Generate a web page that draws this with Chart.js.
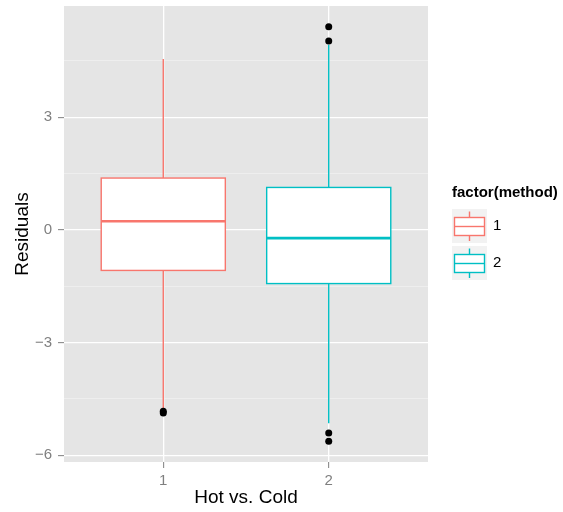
<!DOCTYPE html>
<html>
<head>
<meta charset="utf-8">
<script src="https://cdn.jsdelivr.net/npm/chart.js@4.4.1/dist/chart.umd.min.js"></script>
<style>
  html, body { margin: 0; padding: 0; background: #fff; }
  canvas { display: block; }
</style>
</head>
<body>
<canvas id="chart" width="563" height="512"></canvas>
<script>
'use strict';

// ─── Data ────────────────────────────────────────────────────────────────────

const groups       = [1, 2];
const groupLabels  = ['1', '2'];
const whiskerLow   = [-4.79, -5.15];
const lowerQuart   = [-1.08, -1.43];
const medians      = [0.23, -0.22];
const upperQuart   = [1.38, 1.13];
const whiskerHigh  = [4.55, 4.93];
const outliersX    = [1, 1, 2, 2, 2, 2];
const outliersY    = [-4.83, -4.88, 5.41, 5.03, -5.41, -5.63];
const yMajorTicks  = [-6, -3, 0, 3];
const yMinorTicks  = [-4.5, -1.5, 1.5, 4.5];
const xTitle       = 'Hot vs. Cold';
const yTitle       = 'Residuals';
const legendTitle  = 'factor(method)';

// ─── Style ───────────────────────────────────────────────────────────────────

const COLORS    = ['#F8766D', '#00BFC4'];
const PANEL_BG  = '#E5E5E5';
const GREY50    = '#7F7F7F';
const FONT      = "'Liberation Sans', Arial, Helvetica, sans-serif";
const BOX_HALF  = 0.375;

// y range: data range expanded by 5% each side (ggplot default)
const allY  = whiskerLow.concat(whiskerHigh, outliersY);
const yLo   = Math.min(...allY);
const yHi   = Math.max(...allY);
const yPad  = (yHi - yLo) * 0.05;

const isMajor = v => yMajorTicks.includes(v);
const fmt     = v => (v < 0 ? '\u2212' + Math.abs(v) : String(v));

// ─── Plugins ─────────────────────────────────────────────────────────────────

const panelBg = {
  id: 'panelBg',
  beforeDraw(chart) {
    const { ctx, chartArea: a } = chart;
    ctx.save();
    ctx.fillStyle = PANEL_BG;
    ctx.fillRect(a.left, a.top, a.right - a.left, a.bottom - a.top);
    ctx.restore();
  },
};

const boxes = {
  id: 'boxes',
  beforeDatasetsDraw(chart) {
    const { ctx } = chart;
    const xs = chart.scales.x, ys = chart.scales.y;
    ctx.save();
    groups.forEach((g, i) => {
      const x  = xs.getPixelForValue(g);
      const xl = xs.getPixelForValue(g - BOX_HALF);
      const xr = xs.getPixelForValue(g + BOX_HALF);
      const yq1 = ys.getPixelForValue(lowerQuart[i]);
      const yq3 = ys.getPixelForValue(upperQuart[i]);
      ctx.strokeStyle = COLORS[i];
      ctx.lineWidth = 1.4;
      ctx.beginPath();
      ctx.moveTo(x, ys.getPixelForValue(whiskerHigh[i]));
      ctx.lineTo(x, yq3);
      ctx.moveTo(x, yq1);
      ctx.lineTo(x, ys.getPixelForValue(whiskerLow[i]));
      ctx.stroke();
      ctx.fillStyle = '#fff';
      ctx.fillRect(xl, yq3, xr - xl, yq1 - yq3);
      ctx.strokeRect(xl, yq3, xr - xl, yq1 - yq3);
      const ym = ys.getPixelForValue(medians[i]);
      ctx.lineWidth = 2.7;
      ctx.beginPath();
      ctx.moveTo(xl, ym);
      ctx.lineTo(xr, ym);
      ctx.stroke();
    });
    ctx.restore();
  },
};

const ggLegend = {
  id: 'ggLegend',
  afterDraw(chart) {
    const { ctx } = chart;
    const left = 452, keyW = 35, keyH = 34;
    ctx.save();
    ctx.textBaseline = 'middle';
    ctx.textAlign = 'left';
    ctx.fillStyle = '#000';
    ctx.font = `bold 15px ${FONT}`;
    ctx.fillText(legendTitle, left, 193);
    groups.forEach((g, i) => {
      const top = 209 + i * (keyH + 3);
      ctx.fillStyle = '#F2F2F2';
      ctx.fillRect(left, top, keyW, keyH);
      const cx = left + keyW / 2;
      ctx.strokeStyle = COLORS[i];
      ctx.lineWidth = 1.4;
      ctx.beginPath();
      ctx.moveTo(cx, top + 2.5);
      ctx.lineTo(cx, top + 8.5);
      ctx.moveTo(cx, top + 26.5);
      ctx.lineTo(cx, top + 32);
      ctx.stroke();
      ctx.fillStyle = '#fff';
      ctx.fillRect(left + 2.5, top + 8.5, keyW - 5, 18);
      ctx.strokeRect(left + 2.5, top + 8.5, keyW - 5, 18);
      ctx.beginPath();
      ctx.moveTo(left + 2.5, top + 17.5);
      ctx.lineTo(left + keyW - 2.5, top + 17.5);
      ctx.stroke();
      ctx.fillStyle = '#000';
      ctx.font = `15px ${FONT}`;
      ctx.fillText(groupLabels[i], left + keyW + 6, top + keyH / 2);
    });
    ctx.restore();
  },
};

// ─── Chart ───────────────────────────────────────────────────────────────────

new Chart(document.getElementById('chart').getContext('2d'), {
  type: 'scatter',
  data: {
    datasets: [{
      label: 'outliers',
      data: outliersX.map((x, i) => ({ x, y: outliersY[i] })),
      backgroundColor: '#000',
      borderWidth: 0,
      pointRadius: 3.5,
      pointHoverRadius: 3.5,
    }],
  },
  options: {
    responsive: false,
    animation: false,
    devicePixelRatio: 1,
    layout: { padding: { left: 0, top: 6, right: 135, bottom: 0 } },
    plugins: {
      legend: { display: false },
      tooltip: { enabled: false },
    },
    scales: {
      x: {
        type: 'linear',
        min: 0.4,
        max: 2.6,
        afterBuildTicks: s => { s.ticks = groups.map(v => ({ value: v })); },
        afterFit: s => { s.height = 50; s.paddingLeft = 0; s.paddingRight = 0; },
        border: { display: false },
        grid: { color: '#fff', lineWidth: 1.3, tickColor: GREY50, tickLength: 6, tickWidth: 1 },
        ticks: {
          color: GREY50,
          font: { family: FONT, size: 15 },
          padding: 4,
          callback: v => groupLabels[groups.indexOf(v)],
        },
        title: {
          display: true,
          text: xTitle,
          color: '#000',
          font: { family: FONT, size: 19 },
          padding: { top: 0, bottom: 3 },
        },
      },
      y: {
        type: 'linear',
        min: yLo - yPad,
        max: yHi + yPad,
        afterBuildTicks: s => {
          s.ticks = yMajorTicks.concat(yMinorTicks).sort((a, b) => a - b).map(v => ({ value: v }));
        },
        afterFit: s => { s.width = 64; s.paddingTop = 0; s.paddingBottom = 0; },
        border: { display: false },
        grid: {
          color: c => (c.tick && isMajor(c.tick.value) ? '#fff' : '#F2F2F2'),
          lineWidth: c => (c.tick && isMajor(c.tick.value) ? 1.3 : 0.7),
          tickColor: c => (c.tick && isMajor(c.tick.value) ? GREY50 : 'rgba(0,0,0,0)'),
          tickLength: 6,
          tickWidth: 1,
        },
        ticks: {
          color: GREY50,
          font: { family: FONT, size: 15 },
          padding: 6,
          callback: v => (isMajor(v) ? fmt(v) : ''),
        },
        title: {
          display: true,
          text: yTitle,
          color: '#000',
          font: { family: FONT, size: 19 },
          padding: { top: 11, bottom: 0 },
        },
      },
    },
  },
  plugins: [panelBg, boxes, ggLegend],
});
</script>
</body>
</html>
